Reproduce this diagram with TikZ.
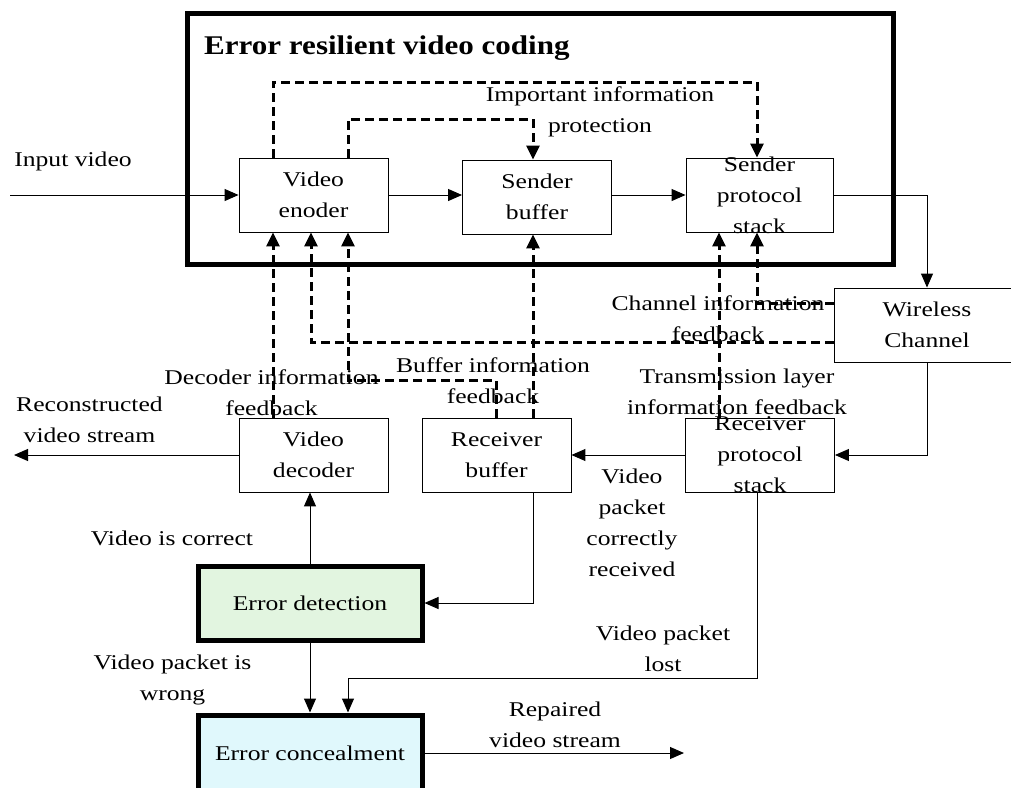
\documentclass[tikz,border=0pt]{standalone}
\usepackage{fontspec}
\setmainfont{Liberation Serif}[FakeStretch=1.22]
\newfontfamily\titlefont{Liberation Serif}[FakeStretch=1.15]
\usetikzlibrary{arrows.meta}
\definecolor{detfill}{RGB}{226,245,224}
\definecolor{confill}{RGB}{224,248,252}
\begin{document}
\begin{tikzpicture}[x=1pt,y=-1pt,
  every node/.style={font=\fontsize{21}{31}\selectfont},
  box/.style={draw, line width=0.9pt, minimum width=149pt, minimum height=74pt, inner sep=0pt},
  bigbox/.style={draw, line width=5pt, minimum width=224pt, minimum height=74pt, inner sep=0pt},
  boxtxt/.style={align=center, inner sep=0pt},
  lbl/.style={anchor=base, align=center, inner sep=0pt},
  arr/.style={line width=1pt, -{Triangle[length=14pt,width=12pt]}},
  dsh/.style={line width=3pt, dash pattern=on 9pt off 5pt, -{Triangle[length=14pt,width=13pt]}}
]
\clip (0,0) rectangle (1011,787);
\fill[white] (0,0) rectangle (1011,787);

% outer frame
\draw[line width=5pt] (187,13) rectangle (893,264);
\node[anchor=base west, inner sep=0pt, font=\titlefont\bfseries\fontsize{27}{30}\selectfont] (title) at (204,54) {Error resilient video coding};

% boxes
\node[box, label={[boxtxt]center:Video\\enoder}] (enc) at (313.5,195) {};
\node[box, label={[boxtxt]center:Sender\\buffer}] (sbuf) at (537,197) {};
\node[box, minimum width=147pt, label={[boxtxt]center:Sender\\protocol\\stack}] (sps) at (759.5,195) {};
\node[box, minimum width=186pt, label={[boxtxt]center:Wireless\\Channel}] (wc) at (927,325) {};
\node[box, label={[boxtxt]center:Receiver\\protocol\\stack}] (rps) at (760,455) {};
\node[box, label={[boxtxt]center:Receiver\\buffer}] (rbuf) at (496.5,455) {};
\node[box, label={[boxtxt]center:Video\\decoder}] (dec) at (313.5,455) {};
\node[bigbox, fill=detfill] (det) at (310,603) {Error detection};
\node[bigbox, fill=confill, minimum height=76pt] (con) at (310,753) {Error concealment};

% labels (anchored at the baseline of their last line)
\node[lbl] (lin) at (73,166) {Input video};
\node[lbl] (limp) at (600,132) {Important information\\protection};
\node[lbl] (lchan) at (718,341) {Channel information\\feedback};
\node[lbl] (ltrans) at (737,414) {Transmission layer\\information feedback};
\node[lbl] (lbuf) at (493,403) {Buffer information\\feedback};
\node[lbl] (ldec) at (271.5,415) {Decoder information\\feedback};
\node[lbl] (lrec) at (89.5,442) {Reconstructed\\video stream};
\node[lbl] (lcor) at (172,545) {Video is correct};
\node[lbl] (lwrong) at (172.5,700) {Video packet is\\wrong};
\node[lbl] (lok) at (632,576) {Video\\packet\\correctly\\received};
\node[lbl] (llost) at (663,671) {Video packet\\lost};
\node[lbl] (lrep) at (555,747) {Repaired\\video stream};

% helper coordinates
\coordinate (c273) at (273,0);
\coordinate (c311) at (311,0);
\coordinate (c348) at (348,0);
\coordinate (c496) at (496,0);
\coordinate (c533) at (533,0);
\coordinate (c719) at (719,0);
\coordinate (c757) at (757,0);
\coordinate (r82) at (0,82);
\coordinate (r119) at (0,119);
\coordinate (r303) at (0,303);
\coordinate (r342) at (0,342);
\coordinate (r380) at (0,380);
\coordinate (r678) at (0,678);
\coordinate (in) at (10,195);
\coordinate (out1) at (14,455);
\coordinate (out2) at (684,753);

% solid connectors
\draw[arr] (in) -- (enc.west);
\draw[arr] (enc.east) -- (enc.east -| sbuf.west);
\draw[arr] (sps.west -| sbuf.east) -- (sps.west);
\draw[arr] (sps.east) -| (wc.north);
\draw[arr] (wc.south) |- (rps.east);
\draw[arr] (rps.west) -- (rbuf.east);
\draw[arr] (dec.west) -- (out1);
\draw[arr] (rbuf.south -| c533) |- (det.east);
\draw[arr] (det.north) -- (det.north |- dec.south);
\draw[arr] (det.south) -- (con.north);
\draw[arr] (rps.south -| c757) |- (c348 |- r678) -- (con.north -| c348);
\draw[arr] (con.east) -- (out2);

% dashed feedback / protection paths
\draw[dsh] (enc.north -| c273) |- (c757 |- r82) -- (sps.north -| c757);
\draw[dsh] (enc.north -| c348) |- (c533 |- r119) -- (sbuf.north -| c533);
\draw[dsh] (dec.north -| c273) -- (enc.south -| c273);
\draw[dsh] (wc.west |- r342) -| (enc.south -| c311);
\draw[dsh] (rbuf.north -| c496) |- (c348 |- r380) -- (enc.south -| c348);
\draw[dsh] (rbuf.north -| c533) -- (sbuf.south -| c533);
\draw[dsh] (rps.north -| c719) -- (sps.south -| c719);
\draw[dsh] (wc.west |- r303) -| (sps.south -| c757);
\end{tikzpicture}
\end{document}
